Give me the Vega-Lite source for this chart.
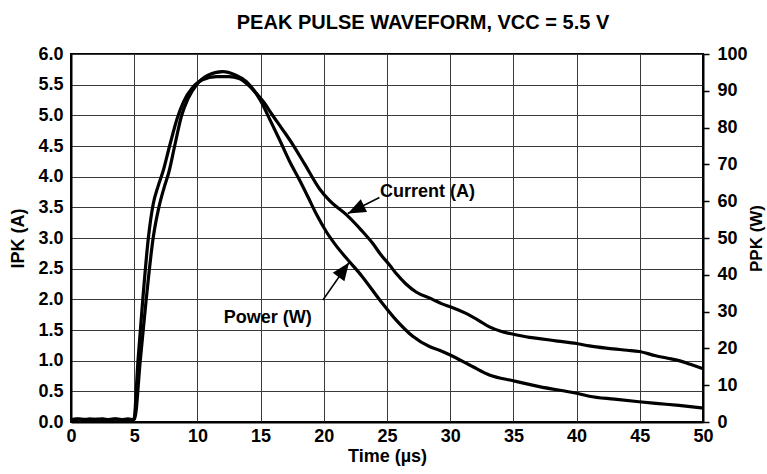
{
  "$schema": "https://vega.github.io/schema/vega-lite/v6.json",
  "autosize": "none",
  "width": 632,
  "height": 368,
  "padding": {"left": 71, "top": 54, "right": 64, "bottom": 52},
  "background": "white",
  "title": {
    "text": "PEAK PULSE WAVEFORM, VCC = 5.5 V",
    "font": "Liberation Sans",
    "fontSize": 20,
    "fontWeight": "bold",
    "color": "#000",
    "anchor": "middle",
    "dx": 36,
    "offset": 12
  },
  "config": {
    "view": {"stroke": "#000", "strokeWidth": 2},
    "font": "Liberation Sans",
    "axis": {
      "labelFont": "Liberation Sans",
      "labelFontSize": 18,
      "labelFontWeight": "bold",
      "labelColor": "#000",
      "titleFont": "Liberation Sans",
      "titleFontSize": 18,
      "titleFontWeight": "bold",
      "titleColor": "#000",
      "domainColor": "#000",
      "domainWidth": 2,
      "gridColor": "#3a3a3a",
      "gridOpacity": 1,
      "gridWidth": 1,
      "tickColor": "#000"
    }
  },
  "datasets": {
    "current": [
      {"t": 0, "a": 0.04}, {"t": 0.5, "a": 0.05}, {"t": 1, "a": 0.04}, {"t": 1.5, "a": 0.05}, {"t": 2, "a": 0.04}, {"t": 2.5, "a": 0.05}, {"t": 3, "a": 0.04}, {"t": 3.5, "a": 0.05}, {"t": 4, "a": 0.04}, {"t": 4.5, "a": 0.05}, {"t": 4.97, "a": 0.04},
      {"t": 5.3, "a": 1.0}, {"t": 5.68, "a": 2.0}, {"t": 6.12, "a": 3.0}, {"t": 6.5, "a": 3.55}, {"t": 6.9, "a": 3.85}, {"t": 7.3, "a": 4.1}, {"t": 7.8, "a": 4.5}, {"t": 8.4, "a": 4.95}, {"t": 8.9, "a": 5.22}, {"t": 9.6, "a": 5.45}, {"t": 10.4, "a": 5.58}, {"t": 11.5, "a": 5.63}, {"t": 12.5, "a": 5.63}, {"t": 13.3, "a": 5.6}, {"t": 14.0, "a": 5.5}, {"t": 14.7, "a": 5.35}, {"t": 15.3, "a": 5.2}, {"t": 15.85, "a": 5.03}, {"t": 16.7, "a": 4.78}, {"t": 17.56, "a": 4.52}, {"t": 18.5, "a": 4.2}, {"t": 19.67, "a": 3.8}, {"t": 20.5, "a": 3.6}, {"t": 21.78, "a": 3.38}, {"t": 23, "a": 3.12}, {"t": 23.88, "a": 2.91}, {"t": 24.5, "a": 2.73}, {"t": 25.2, "a": 2.56}, {"t": 25.73, "a": 2.42}, {"t": 26.5, "a": 2.25}, {"t": 27.3, "a": 2.12}, {"t": 28.6, "a": 2.0}, {"t": 29.3, "a": 1.93}, {"t": 30, "a": 1.88}, {"t": 31.25, "a": 1.77}, {"t": 32.3, "a": 1.65}, {"t": 33.1, "a": 1.55}, {"t": 34, "a": 1.48}, {"t": 35, "a": 1.43}, {"t": 36.26, "a": 1.38}, {"t": 37.05, "a": 1.36}, {"t": 38.5, "a": 1.32}, {"t": 40, "a": 1.28}, {"t": 41, "a": 1.24}, {"t": 42.5, "a": 1.2}, {"t": 44, "a": 1.17}, {"t": 44.94, "a": 1.15}, {"t": 46.26, "a": 1.08}, {"t": 47.2, "a": 1.04}, {"t": 48.1, "a": 1.0}, {"t": 49, "a": 0.94}, {"t": 50, "a": 0.87}
    ],
    "power": [
      {"t": 0, "w": 0.6}, {"t": 0.7, "w": 0.8}, {"t": 1.4, "w": 0.6}, {"t": 2.1, "w": 0.8}, {"t": 2.8, "w": 0.6}, {"t": 3.5, "w": 0.8}, {"t": 4.2, "w": 0.6}, {"t": 5.02, "w": 0.7},
      {"t": 5.48, "w": 16.7}, {"t": 5.95, "w": 33.3}, {"t": 6.5, "w": 50}, {"t": 6.95, "w": 58.3}, {"t": 7.35, "w": 63.5}, {"t": 7.75, "w": 68}, {"t": 8.2, "w": 75}, {"t": 8.75, "w": 83.3}, {"t": 9.25, "w": 87.8}, {"t": 9.95, "w": 91.7}, {"t": 10.8, "w": 94.2}, {"t": 12.0, "w": 95.2}, {"t": 13.0, "w": 94.3}, {"t": 13.88, "w": 92.5}, {"t": 14.5, "w": 90}, {"t": 15.0, "w": 87.3}, {"t": 15.8, "w": 81.7}, {"t": 16.5, "w": 76.7}, {"t": 17.3, "w": 70.8}, {"t": 18.09, "w": 65.7}, {"t": 18.8, "w": 60.8}, {"t": 19.41, "w": 56.5}, {"t": 20.2, "w": 51.7}, {"t": 21.0, "w": 47.8}, {"t": 22.0, "w": 43.7}, {"t": 23.0, "w": 39.7}, {"t": 24.4, "w": 33.3}, {"t": 25.73, "w": 27.7}, {"t": 27.04, "w": 23.3}, {"t": 28.36, "w": 20.5}, {"t": 29.15, "w": 19.5}, {"t": 30, "w": 18.2}, {"t": 31.8, "w": 15.0}, {"t": 33.1, "w": 12.8}, {"t": 35, "w": 11.2}, {"t": 37.05, "w": 9.6}, {"t": 40, "w": 7.8}, {"t": 41, "w": 7.0}, {"t": 43, "w": 6.2}, {"t": 44.94, "w": 5.5}, {"t": 46.5, "w": 5.0}, {"t": 48.1, "w": 4.5}, {"t": 50, "w": 3.8}
    ],
    "labels": [
      {"label": "Current (A)", "t": 24.45, "a": 3.75, "side": "left"},
      {"label": "Power (W)", "t": 19.04, "a": 1.69, "side": "right"}
    ],
    "arrows": [
      {"t": 21.9, "a": 3.4, "ts": 24.4, "as": 3.66, "dir": 244},
      {"t": 22.0, "a": 2.6, "ts": 19.93, "as": 1.99, "dir": 36}
    ]
  },
  "layer": [
    {
      "encoding": {
        "x": {"field": "t", "type": "quantitative", "scale": {"domain": [0, 50], "nice": false},
          "axis": {"tickCount": 10, "title": "Time (µs)", "ticks": false, "labelPadding": 5, "titlePadding": 2, "grid": true, "labelFlush": false, "labelOverlap": false}},
        "y": {"field": "a", "type": "quantitative", "scale": {"domain": [0, 6], "nice": false, "zero": true},
          "axis": {"tickCount": 12, "format": ".1f", "title": "IPK (A)", "ticks": false, "labelPadding": 8, "titlePadding": 10, "grid": true, "labelFlush": false, "labelOverlap": false}}
      },
      "layer": [
        {
          "data": {"name": "current"},
          "mark": {"type": "line", "color": "#000", "strokeWidth": 3.2, "interpolate": "monotone"}
        },
        {
          "data": {"name": "arrows"},
          "mark": {"type": "rule", "color": "#000", "strokeWidth": 1.5},
          "encoding": {
            "x2": {"field": "ts"},
            "y2": {"field": "as"}
          }
        },
        {
          "data": {"name": "arrows"},
          "mark": {"type": "point", "shape": "M0,0L-0.8,2L0.8,2Z", "filled": true, "color": "#000", "size": 320, "opacity": 1},
          "encoding": {
            "angle": {"field": "dir", "type": "quantitative", "scale": null}
          }
        },
        {
          "data": {"name": "labels"},
          "transform": [{"filter": "datum.side === 'left'"}],
          "mark": {"type": "text", "align": "left", "baseline": "middle", "font": "Liberation Sans", "fontSize": 18, "fontWeight": "bold", "color": "#000"},
          "encoding": {
            "text": {"field": "label"}
          }
        },
        {
          "data": {"name": "labels"},
          "transform": [{"filter": "datum.side === 'right'"}],
          "mark": {"type": "text", "align": "right", "baseline": "middle", "font": "Liberation Sans", "fontSize": 18, "fontWeight": "bold", "color": "#000"},
          "encoding": {
            "text": {"field": "label"}
          }
        }
      ]
    },
    {
      "data": {"name": "power"},
      "mark": {"type": "line", "color": "#000", "strokeWidth": 3.2, "interpolate": "monotone"},
      "encoding": {
        "x": {"field": "t", "type": "quantitative"},
        "y": {"field": "w", "type": "quantitative", "scale": {"domain": [0, 100], "nice": false},
          "axis": {"orient": "right", "tickCount": 10, "title": "PPK (W)", "titleAngle": 270, "titleBaseline": "top", "titleFontSize": 17, "grid": false, "tickSize": 6, "tickWidth": 1.5, "labelPadding": 8, "titlePadding": 1, "labelFlush": false, "labelOverlap": false}}
      }
    }
  ],
  "resolve": {"scale": {"y": "independent"}}
}
